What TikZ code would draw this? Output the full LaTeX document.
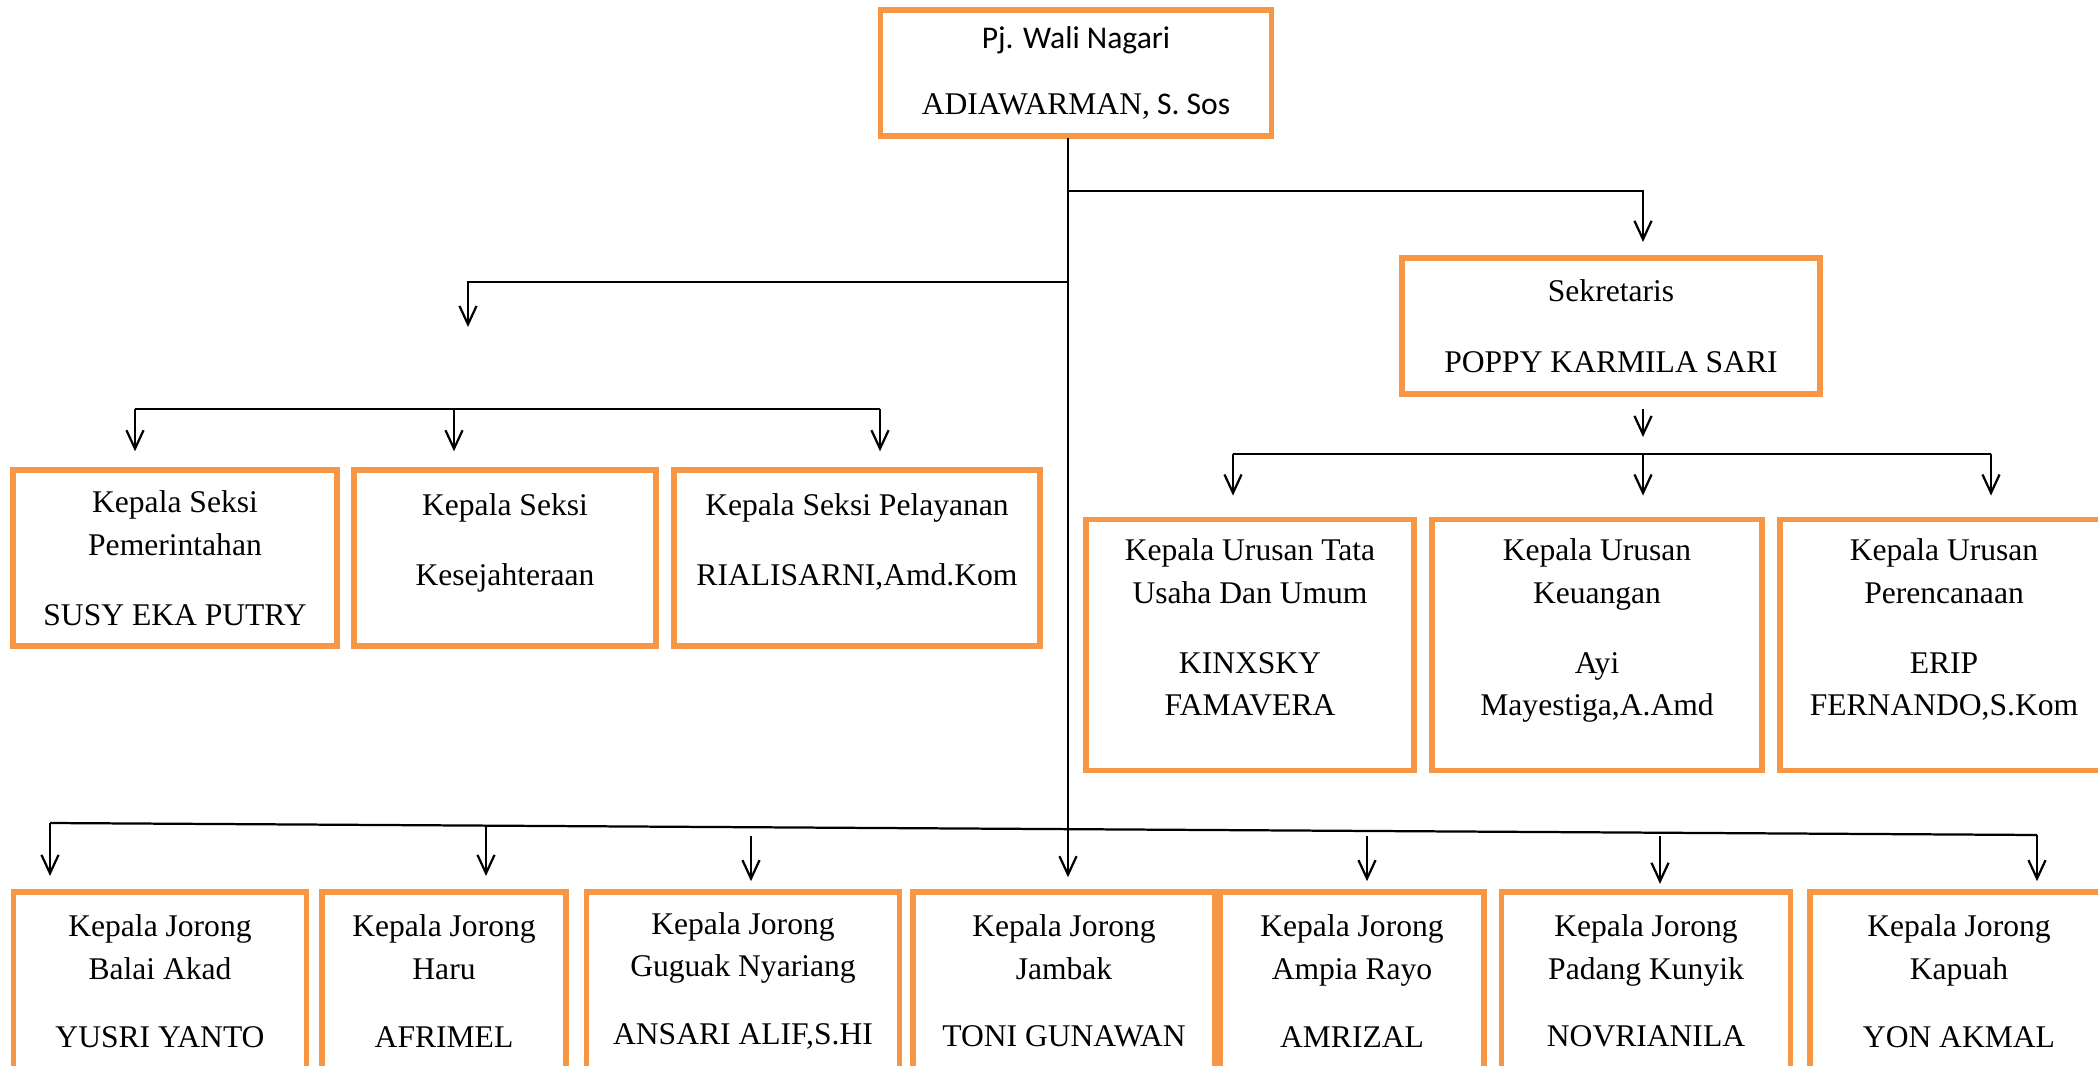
\documentclass[tikz,border=0pt]{standalone}
\usepackage{fontspec}
\setmainfont{Liberation Serif}
\newfontfamily\carlito{Carlito}
\usepackage{tikz}
\usetikzlibrary{arrows.meta}
\usetikzlibrary{positioning}
\definecolor{orgn}{HTML}{F79646}
\tikzstyle{unit} = [draw=orgn, line width=2.2pt, align=center, inner sep=0pt,
    font=\fontsize{12}{16.2}\selectfont]
\tikzstyle{link} = [line width=0.85pt]
\tikzset{wh/.style 2 args={minimum width=#1*0.38pt, minimum height=#2*0.38pt}}

\begin{document}
\begin{tikzpicture}[x=0.38pt, y=-0.38pt, >={Straight Barb[length=7pt,width=6.5pt]}]
    \path [use as bounding box, fill=white] (0,0) rectangle (2098,1066);
    \clip (0,0) rectangle (2098,1066);
    \node [unit, wh={391}{126}] at (1076,73) (wali) {{\carlito Pj. Wali Nagari}\\[8.9pt]ADIAWARMAN,{\carlito\ S. Sos}};
    \node [unit, wh={418}{136}] at (1611,326) (sekretaris) {Sekretaris\\[10.8pt]POPPY KARMILA SARI};
    \node [unit, wh={324}{176}] at (175,558) (kspem) {Kepala Seksi\\Pemerintahan\\[10.4pt]SUSY EKA PUTRY};
    \node [unit, wh={302}{176}] at (505,558) (kskes) {Kepala Seksi\\[10.4pt]Kesejahteraan\\[-2.3pt]\mbox{}};
    \node [unit, wh={366}{176}] at (857,558) (kspel) {Kepala Seksi Pelayanan\\[10.4pt]RIALISARNI,Amd.Kom\\[-2.3pt]\mbox{}};
    \node [unit, wh={328}{251}] at (1250,645) (kutu) {Kepala Urusan Tata\\Usaha Dan Umum\\[10.4pt]KINXSKY\\FAMAVERA\\[-2.8pt]\mbox{}};
    \node [unit, wh={330}{251}] at (1597,645) (kukeu) {Kepala Urusan\\Keuangan\\[10.4pt]Ayi\\Mayestiga,A.Amd\\[-2.8pt]\mbox{}};
    \node [unit, wh={328}{251}] at (1944,645) (kuren) {Kepala Urusan\\Perencanaan\\[10.4pt]ERIP\\FERNANDO,S.Kom\\[-2.8pt]\mbox{}};
    \node [unit, wh={293}{178}] at (160,981) (kjbalai) {Kepala Jorong\\Balai Akad\\[9.6pt]YUSRI YANTO};
    \node [unit, wh={244}{178}] at (444,981) (kjharu) {Kepala Jorong\\Haru\\[9.6pt]AFRIMEL};
    \node [unit, wh={313}{178}] at (743,981) (kjguguak) {Kepala Jorong\\Guguak Nyariang\\[9.6pt]ANSARI ALIF,S.HI};
    \node [unit, wh={302}{178}] at (1064,981) (kjjambak) {Kepala Jorong\\Jambak\\[9.6pt]TONI GUNAWAN};
    \node [unit, wh={264}{178}] at (1352,981) (kjampia) {Kepala Jorong\\Ampia Rayo\\[9.6pt]AMRIZAL};
    \node [unit, wh={289}{178}] at (1646,981) (kjpadang) {Kepala Jorong\\Padang Kunyik\\[9.6pt]NOVRIANILA};
    \node [unit, wh={298}{178}] at (1959,981) (kjkapuah) {Kepala Jorong\\Kapuah\\[9.6pt]YON AKMAL};
    \coordinate (trunk) at (1068,138);
    \coordinate (rsplit) at (1068,191);
    \coordinate (lsplit) at (1068,282);
    \coordinate (sekin) at (1643,245);
    \coordinate (sekout) at (1643,409);
    \coordinate (sektip) at (1643,437);
    \coordinate (ubusl) at (1233,454);
    \coordinate (ubusm) at (1643,454);
    \coordinate (ubusr) at (1991,454);
    \coordinate (lturn) at (468,327);
    \coordinate (sbusl) at (135,409);
    \coordinate (sbusm) at (454,409);
    \coordinate (sbusr) at (880,409);
    \coordinate (jbusl) at (50,823);
    \coordinate (jbusr) at (2037,835);
    \coordinate (jharu) at (486,825);
    \coordinate (jguguak) at (751,836);
    \coordinate (jampia) at (1367,836);
    \coordinate (jpadang) at (1660,836);
    \draw [link, ->, shorten >=4.5pt] (trunk) -- (trunk |- kjjambak.north);
    \draw [link, ->, shorten >=5pt] (rsplit) -| (sekin |- sekretaris.north);
    \draw [link, ->] (sekout) -- (sektip);
    \draw [link] (ubusl) -- (ubusr);
    \draw [link, ->, shorten >=8pt] (ubusl) -- (ubusl |- kutu.north);
    \draw [link, ->, shorten >=8pt] (ubusm) -- (ubusm |- kukeu.north);
    \draw [link, ->, shorten >=8pt] (ubusr) -- (ubusr |- kuren.north);
    \draw [link, ->] (lsplit) -| (lturn);
    \draw [link] (sbusl) -- (sbusr);
    \draw [link, ->, shorten >=6pt] (sbusl) -- (sbusl |- kspem.north);
    \draw [link, ->, shorten >=6pt] (sbusm) -- (sbusm |- kskes.north);
    \draw [link, ->, shorten >=6pt] (sbusr) -- (sbusr |- kspel.north);
    \draw [link] (jbusl) -- (jbusr);
    \draw [link, ->, shorten >=5pt] (jbusl) -- (jbusl |- kjbalai.north);
    \draw [link, ->, shorten >=5pt] (jharu) -- (jharu |- kjharu.north);
    \draw [link, ->, shorten >=3pt] (jguguak) -- (jguguak |- kjguguak.north);
    \draw [link, ->, shorten >=3pt] (jampia) -- (jampia |- kjampia.north);
    \draw [link, ->, shorten >=2pt] (jpadang) -- (jpadang |- kjpadang.north);
    \draw [link, ->, shorten >=3pt] (jbusr) -- (jbusr |- kjkapuah.north);
\end{tikzpicture}
\end{document}
